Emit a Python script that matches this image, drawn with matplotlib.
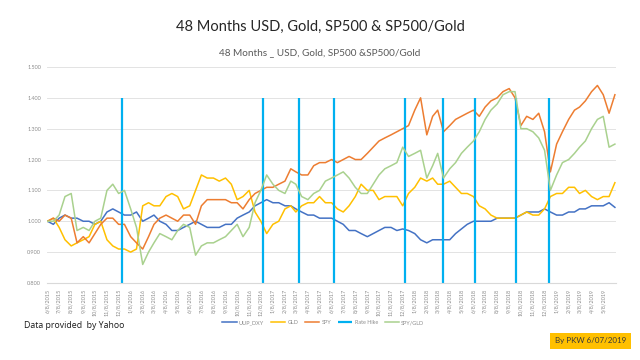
import matplotlib
matplotlib.use('Agg')
import matplotlib.pyplot as plt
import pandas as pd

plt.rcParams['font.family'] = ['Lato', 'DejaVu Sans']

# sample dates: the 8th and 23rd of each month, Jun 2015 - May 2019, plus last close
months = pd.date_range('2015-06-01', '2019-05-01', freq='MS')
dates = []
for m in months:
    dates.append(m + pd.Timedelta(days=7))
    dates.append(m + pd.Timedelta(days=22))
dates.append(pd.Timestamp('2019-06-07'))

uup = [1.00, 0.99, 1.01, 1.02, 1.01, 1.01, 1.00, 1.00, 0.99, 1.00,
       1.03, 1.04, 1.03, 1.02, 1.02, 1.03, 1.00, 1.01, 1.02, 1.00,
       0.99, 0.97, 0.97, 0.98, 0.99, 1.00, 0.99, 0.98, 0.98, 0.98,
       0.99, 0.99, 1.01, 1.02, 1.03, 1.05, 1.06, 1.07, 1.06, 1.06,
       1.05, 1.05, 1.04, 1.03, 1.02, 1.02, 1.01, 1.01, 1.01, 1.00,
       0.99, 0.97, 0.97, 0.96, 0.95, 0.96, 0.97, 0.98, 0.98, 0.97,
       0.975, 0.97, 0.96, 0.94, 0.93, 0.94, 0.94, 0.94, 0.94, 0.96,
       0.975, 0.99, 1.00, 1.00, 1.00, 1.00, 1.01, 1.01, 1.01, 1.01,
       1.02, 1.03, 1.03, 1.03, 1.04, 1.03, 1.02, 1.02, 1.03, 1.03,
       1.04, 1.04, 1.05, 1.05, 1.05, 1.06, 1.045]

gld = [1.00, 1.01, 0.98, 0.94, 0.92, 0.93, 0.94, 0.95, 0.99, 1.00,
       0.94, 0.92, 0.91, 0.91, 0.90, 0.91, 1.05, 1.06, 1.05, 1.05,
       1.08, 1.09, 1.08, 1.04, 1.05, 1.10, 1.15, 1.14, 1.14, 1.13,
       1.14, 1.12, 1.07, 1.08, 1.10, 1.03, 1.00, 0.96, 0.99, 1.00,
       1.04, 1.05, 1.03, 1.05, 1.06, 1.06, 1.08, 1.06, 1.06, 1.04,
       1.03, 1.05, 1.08, 1.12, 1.10, 1.10, 1.07, 1.08, 1.08, 1.08,
       1.05, 1.09, 1.11, 1.14, 1.13, 1.14, 1.12, 1.12, 1.13, 1.11,
       1.09, 1.09, 1.08, 1.05, 1.04, 1.02, 1.01, 1.01, 1.01, 1.01,
       1.02, 1.03, 1.02, 1.02, 1.04, 1.08, 1.09, 1.09, 1.11, 1.11,
       1.09, 1.10, 1.08, 1.07, 1.08, 1.08, 1.125]

spy = [1.00, 1.01, 1.00, 1.02, 1.01, 0.93, 0.95, 0.93, 0.96, 0.99,
       1.01, 1.01, 0.99, 0.99, 0.95, 0.93, 0.91, 0.95, 0.99, 1.01,
       1.02, 1.01, 1.00, 1.02, 1.02, 0.99, 1.05, 1.07, 1.07, 1.07,
       1.07, 1.06, 1.06, 1.04, 1.07, 1.09, 1.10, 1.11, 1.11, 1.12,
       1.13, 1.17, 1.16, 1.15, 1.15, 1.18, 1.19, 1.19, 1.20, 1.19,
       1.20, 1.21, 1.20, 1.20, 1.22, 1.24, 1.26, 1.27, 1.28, 1.29,
       1.30, 1.31, 1.36, 1.40, 1.28, 1.34, 1.36, 1.29, 1.31, 1.33,
       1.34, 1.35, 1.36, 1.34, 1.37, 1.39, 1.40, 1.42, 1.43, 1.40,
       1.31, 1.34, 1.33, 1.35, 1.29, 1.16, 1.25, 1.29, 1.33, 1.36,
       1.37, 1.39, 1.42, 1.44, 1.41, 1.35, 1.41]

spy_gld = [1.00, 1.00, 1.02, 1.08, 1.09, 0.97, 0.98, 0.97, 1.00, 1.01,
           1.10, 1.12, 1.09, 1.10, 1.04, 0.98, 0.86, 0.90, 0.93, 0.96,
           0.95, 0.94, 0.97, 0.99, 0.98, 0.89, 0.92, 0.93, 0.93, 0.94,
           0.95, 0.97, 0.99, 0.95, 0.98, 1.06, 1.10, 1.15, 1.12, 1.10,
           1.09, 1.13, 1.12, 1.08, 1.07, 1.09, 1.10, 1.13, 1.14, 1.15,
           1.16, 1.14, 1.11, 1.09, 1.09, 1.12, 1.15, 1.17, 1.18, 1.19,
           1.24, 1.21, 1.22, 1.23, 1.14, 1.18, 1.22, 1.14, 1.17, 1.19,
           1.22, 1.24, 1.26, 1.29, 1.33, 1.36, 1.38, 1.41, 1.42, 1.42,
           1.30, 1.30, 1.29, 1.27, 1.23, 1.10, 1.15, 1.19, 1.20, 1.22,
           1.24, 1.26, 1.30, 1.33, 1.34, 1.24, 1.25]

rate_hikes = ['2015-12-16', '2016-12-14', '2017-03-15', '2017-06-14', '2017-12-13',
              '2018-03-21', '2018-06-13', '2018-09-26', '2018-12-19']

tick_dates = [m + pd.Timedelta(days=7) for m in months]
tick_labels = [f'{d.month}/{d.day}/{d.year}' for d in tick_dates]
y_ticks = [0.8, 0.9, 1.0, 1.1, 1.2, 1.3, 1.4, 1.5]

fig = plt.figure(figsize=(6.4, 3.6), dpi=100, facecolor='white')
ax = fig.add_axes([0.073, 0.214, 0.889, 0.600])

grey = '#8c8c8c'
ax.plot(dates, uup, color='#4472C4', lw=1.1, label='UUP_DXY')
ax.plot(dates, gld, color='#FFC000', lw=1.1, label='GLD')
ax.plot(dates, spy, color='#ED7D31', lw=1.1, label='SPY')
hikes = pd.to_datetime(rate_hikes)
ax.vlines(hikes, 0.8, 1.4, color='#00B0F0', lw=1.6, label='Rate Hike')
ax.plot(dates, spy_gld, color='#A9D18E', lw=1.1, label='SPY/GLD')

ax.set_ylim(0.8, 1.5)
ax.set_yticks(y_ticks)
ax.set_yticklabels([f'{v:.3f}' for v in y_ticks])
ax.set_xlim(pd.Timestamp('2015-06-06'), pd.Timestamp('2019-06-09'))
ax.set_xticks(tick_dates)
ax.set_xticklabels(tick_labels, rotation=90)
ax.tick_params(colors=grey, labelsize=4.0, length=0, pad=4)
for s in ['top', 'right', 'left']:
    ax.spines[s].set_visible(False)
ax.spines['bottom'].set_color('#D9D9D9')
ax.grid(axis='y', color='#E3E3E3', lw=0.7)
ax.set_axisbelow(True)

fig.text(0.5, 0.925, '48 Months USD, Gold, SP500 & SP500/Gold', ha='center', va='center',
         fontsize=10.5, color='#262626')
fig.text(0.5, 0.853, '48 Months _ USD, Gold, SP500 &SP500/Gold', ha='center', va='center',
         fontsize=7.2, color='#595959')
fig.text(0.037, 0.097, 'Data provided  by Yahoo', ha='left', va='center',
         fontsize=6.3, color='#1a1a1a', family=['Open Sans', 'DejaVu Sans'])
fig.text(0.923, 0.053, 'By PKW 6/07/2019', ha='center', va='center', fontsize=5.8,
         color='#3a3a3a',
         bbox=dict(boxstyle='square,pad=0.6', fc='#FFC000', ec='none'))

fig.legend(loc='center', bbox_to_anchor=(0.505, 0.103), ncol=5, frameon=False,
           fontsize=4.0, handlelength=2.6, columnspacing=1.2, handletextpad=0.4,
           labelcolor=grey)

fig.savefig('out.png', dpi=100, facecolor='white')
